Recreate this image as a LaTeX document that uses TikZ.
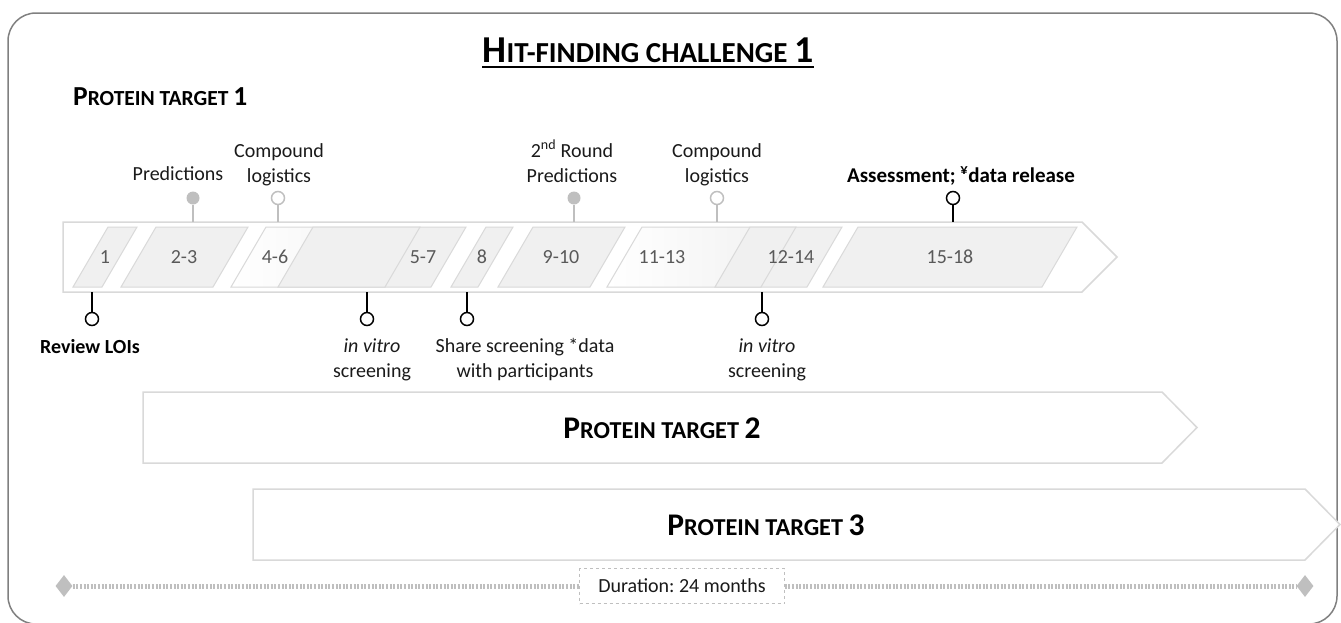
\documentclass[tikz,border=0pt]{standalone}
\usepackage{fontspec}
\setmainfont{Carlito}
\usepackage{tikz}
\usetikzlibrary{arrows, positioning, calc, shapes.geometric}
\frenchspacing

\definecolor{framegray}{HTML}{808080}
\definecolor{barline}{HTML}{D9D9D9}
\definecolor{phasefill}{HTML}{F0F0F0}
\definecolor{lightfill}{HTML}{FAFAFA}
\definecolor{numgray}{HTML}{595959}
\definecolor{pingray}{HTML}{BFBFBF}
\definecolor{labelblack}{HTML}{1A1A1A}

\begin{document}
\begin{tikzpicture}[x=1pt,y=-1pt,
		bar/.style={draw=barline,line width=1.5pt,fill=white},
		phase/.style={draw=barline,line width=1pt,fill=phasefill},
		num/.style={font=\fontsize{20}{22}\selectfont,text=numgray,inner sep=0},
		lbl/.style={font=\fontsize{20}{24.5}\selectfont,align=center,anchor=base,text=labelblack,inner sep=0},
		pin/.style={circle,minimum size=13pt,inner sep=0,line width=1.5pt},
		grey pin/.style={pin,fill=pingray},
		open pin/.style={pin,draw=pingray,fill=white},
		black pin/.style={pin,draw=black,fill=white},
		grey stem/.style={draw=pingray,line width=1.5pt},
		black stem/.style={draw=black,line width=2pt}]
	
	\useasboundingbox (0,0) rectangle (1341,622);
	\clip (0,0) rectangle (1341,622);
	
	% frame and headings
	\draw[framegray,line width=1.5pt,rounded corners=28pt] (8,13) rectangle (1337,624);
	\node[anchor=base,inner sep=0,font=\bfseries] (title) at (648,62)
	{\fontsize{38}{42}\selectfont H\fontsize{29}{32}\selectfont IT-FINDING CHALLENGE \fontsize{38}{42}\selectfont 1};
	\draw[line width=2pt] ([yshift=-5pt]title.base west) -- ([yshift=-5pt]title.base east);
	\node[anchor=base west,inner sep=0,font=\bfseries] (pt1) at (73,105)
	{\fontsize{27.5}{30}\selectfont P\fontsize{21.5}{24}\selectfont ROTEIN TARGET \fontsize{27.5}{30}\selectfont 1};
	
	% protein target 1
	\draw[bar] (63,222) -- (1082,222) -- (1117,257) -- (1082,292) -- (63,292) -- cycle;
	\coordinate (bartop) at (0,222);
	\coordinate (barbot) at (0,292);
	
	\foreach \a/\b in {73/102, 121/213, 451/478, 498/590, 823/1042}
	\draw[phase] (\a,287) -- (\a+35,227) -- (\b+35,227) -- (\b,287) -- cycle;
	
	\draw[phase,left color=white,right color=phasefill] (231,287) -- (266,227) -- (420,227) -- (385,287) -- cycle;
	\draw[phase] (278,287) -- (313,227) -- (466,227) -- (431,287) -- cycle;
	\draw[barline,line width=1pt] (385,287) -- (420,227);
	
	\draw[phase,left color=white,right color=phasefill] (607,287) -- (642,227) -- (796,227) -- (761,287) -- cycle;
	\draw[phase] (715,287) -- (750,227) -- (842,227) -- (807,287) -- cycle;
	\draw[barline,line width=1pt] (761,287) -- (796,227);
	
	\foreach \x/\t [count=\i] in {105/1, 184/2-3, 275/4-6, 423/5-7, 482/8, 561/9-10, 662/11-13, 791/12-14, 950/15-18}
	\node[num] (m\i) at (\x,257) {\t};
	
	% milestones above
	\node[grey pin] (pred) at (193,198) {};
	\node[open pin] (log) at (278,198) {};
	\node[grey pin] (pred2) at (574,198) {};
	\node[open pin] (log2) at (717,198) {};
	\node[black pin] (assess) at (953,198) {};
	
	\path[grey stem] (pred) -- (pred |- bartop)
	(log) -- (log |- bartop)
	(pred2) -- (pred2 |- bartop)
	(log2) -- (log2 |- bartop);
	\path[black stem] (assess) -- (assess |- bartop);
	
	\node[lbl] (predtext) at (178,180) {Predictions};
	\node[lbl] (logtext) at (279,182) {Compound\\logistics};
	\node[lbl] (pred2text) at (572,182) {2\textsuperscript{nd} Round\\Predictions};
	\node[lbl] (log2text) at (717,182) {Compound\\logistics};
	\node[lbl,font=\fontsize{21}{24.5}\selectfont\bfseries,text=black] (assesstext) at (961,182) {Assessment; \textsuperscript{¥}data release};
	
	% milestones below
	\node[black pin] (loi) at (92,319) {};
	\node[black pin] (vitro) at (367,319) {};
	\node[black pin] (share) at (467,319) {};
	\node[black pin] (vitro2) at (762,319) {};
	
	\path[black stem] (loi) -- (loi |- barbot)
	(vitro) -- (vitro |- barbot)
	(share) -- (share |- barbot)
	(vitro2) -- (vitro2 |- barbot);
	
	\node[lbl,font=\fontsize{20}{24.5}\selectfont\bfseries,text=black] (loitext) at (90,353) {Review LOIs};
	\node[lbl] (vitrotext) at (372,377) {\textit{in vitro}\\screening};
	\node[lbl] (sharetext) at (525,377) {Share screening *data\\with participants};
	\node[lbl] (vitro2text) at (767,377) {\textit{in vitro}\\screening};
	
	% protein targets 2 and 3
	\draw[bar] (143,392) -- (1162,392) -- (1197,427.5) -- (1162,463) -- (143,463) -- cycle;
	\node[font=\bfseries,text=black] (pt2) at (662,428)
	{\fontsize{31.5}{34}\selectfont P\fontsize{24.3}{27}\selectfont ROTEIN TARGET \fontsize{31.5}{34}\selectfont 2};
	\draw[bar] (253,489) -- (1305,489) -- (1340,524.5) -- (1305,560) -- (253,560) -- cycle;
	\node[font=\bfseries,text=black] (pt3) at (766,525)
	{\fontsize{31.5}{34}\selectfont P\fontsize{24.3}{27}\selectfont ROTEIN TARGET \fontsize{31.5}{34}\selectfont 3};
	
	% duration
	\node[diamond,fill=pingray,minimum width=17pt,minimum height=22pt,inner sep=0] (dl) at (64,586) {};
	\node[diamond,fill=pingray,minimum width=17pt,minimum height=22pt,inner sep=0] (dr) at (1305,586) {};
	\node[draw=pingray,dashed,fill=white,minimum width=205pt,minimum height=35pt,
	font=\fontsize{20}{22}\selectfont,text=labelblack] (dur) at (682,586) {Duration: 24 months};
	\path[draw=pingray,line width=5pt,dash pattern=on 2pt off 1.6pt]
	(dl) -- (dur) (dur) -- (dr);
\end{tikzpicture}
\end{document}
